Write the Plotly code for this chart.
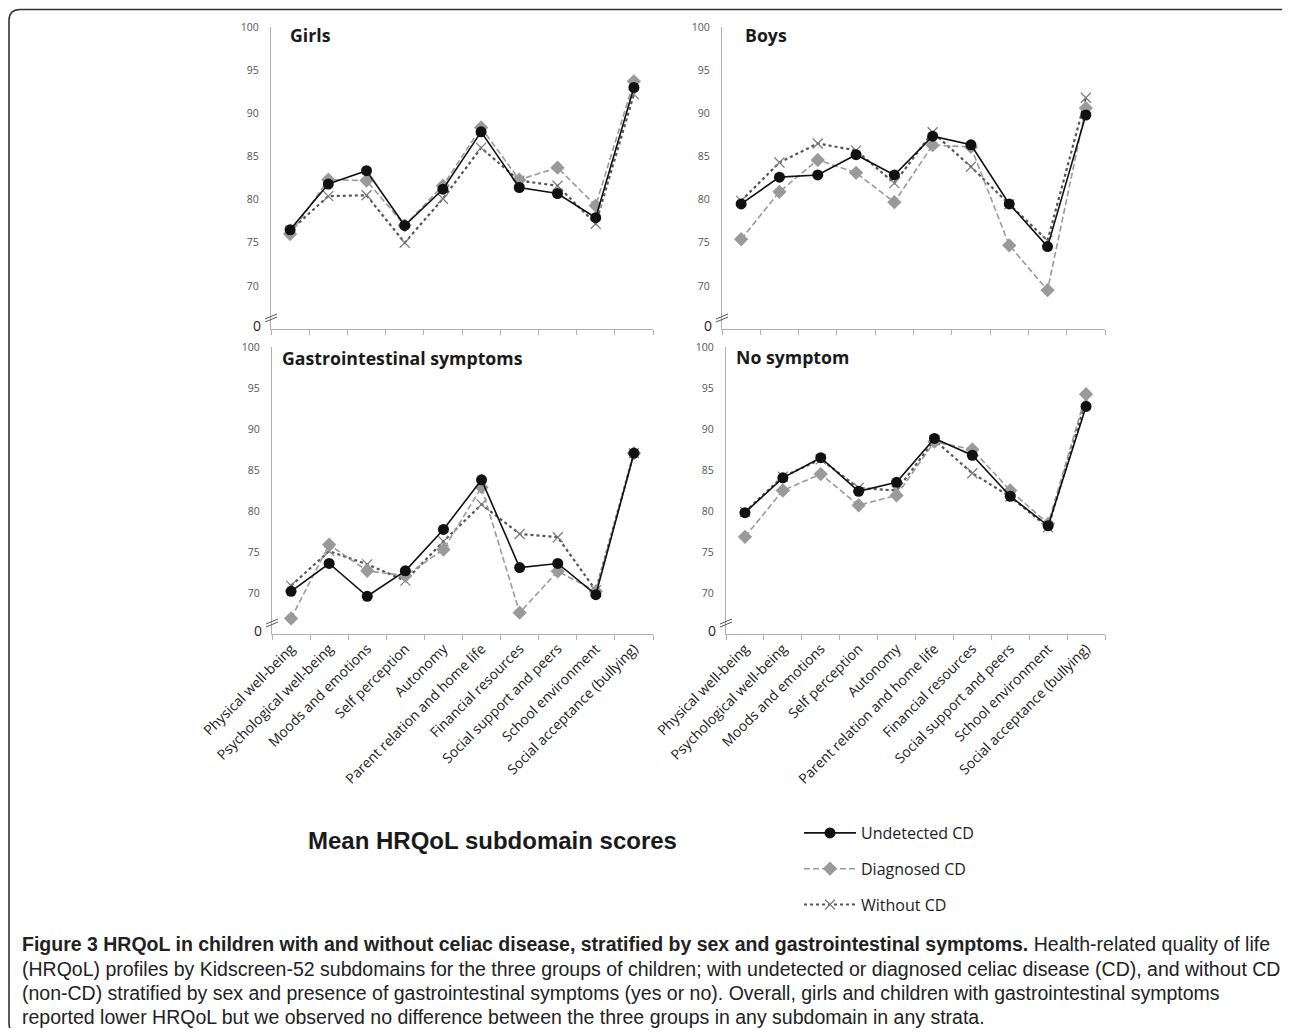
import plotly.graph_objects as go

# The page has an 8px body margin; the figure fills the rest of the 1290x1036 window.
OFF = 8
W, H = 1290 - 2 * OFF, 1036 - 2 * OFF

categories = ["Physical well-being", "Psychological well-being", "Moods and emotions",
              "Self perception", "Autonomy", "Parent relation and home life",
              "Financial resources", "Social support and peers", "School environment",
              "Social acceptance (bullying)"]

panel_titles = ["Girls", "Boys", "Gastrointestinal symptoms", "No symptom"]

girls_undetected = [76.5, 81.8, 83.35, 77.0, 81.2, 87.85, 81.4, 80.7, 77.9, 93.0]
girls_diagnosed = [76.0, 82.3, 82.2, 77.0, 81.6, 88.35, 82.3, 83.7, 79.3, 93.7]
girls_without = [76.4, 80.4, 80.5, 75.0, 80.1, 86.0, 82.2, 81.6, 77.2, 92.2]

boys_undetected = [79.5, 82.6, 82.85, 85.2, 82.85, 87.35, 86.35, 79.5, 74.55, 89.8]
boys_diagnosed = [75.4, 80.9, 84.6, 83.1, 79.7, 86.3, 86.1, 74.7, 69.5, 90.6]
boys_without = [79.85, 84.3, 86.5, 85.7, 81.9, 87.8, 83.8, 79.45, 75.25, 91.8]

gi_undetected = [70.2, 73.6, 69.6, 72.7, 77.75, 83.8, 73.1, 73.6, 69.8, 87.05]
gi_diagnosed = [66.9, 75.9, 72.7, 72.1, 75.3, 82.9, 67.6, 72.65, 70.2, 87.05]
gi_without = [70.9, 75.1, 73.5, 71.5, 76.3, 80.8, 77.2, 76.8, 70.3, 87.05]

nosym_undetected = [79.8, 84.05, 86.5, 82.4, 83.5, 88.85, 86.8, 81.8, 78.2, 92.75]
nosym_diagnosed = [76.85, 82.5, 84.5, 80.7, 81.9, 88.45, 87.5, 82.5, 78.45, 94.25]
nosym_without = [79.9, 84.2, 86.3, 82.8, 82.5, 88.65, 84.6, 81.75, 78.0, 93.55]

y_tickvals = [70, 75, 80, 85, 90, 95, 100]
y_ticktext = ["70", "75", "80", "85", "90", "95", "100"]
series_names = ["Undetected CD", "Diagnosed CD", "Without CD"]

panels = [
    (girls_undetected, girls_diagnosed, girls_without),
    (boys_undetected, boys_diagnosed, boys_without),
    (gi_undetected, gi_diagnosed, gi_without),
    (nosym_undetected, nosym_diagnosed, nosym_without),
]

def fx(x):
    return (x - OFF) / W

def fy(y):
    return 1 - (y - OFF) / H

# pixel layout of panels (window coords): (x0, x1, ytop, ybottom)
boxes = [(271, 653, 27, 329), (722, 1105, 27, 329), (272, 653, 347, 634), (726, 1105, 347, 634)]
title_offsets = [(17, 8), (21, 8), (8, 11), (8, 10)]

styles = [
    dict(line=dict(color="#111111", width=1.6, dash="solid"),
         marker=dict(symbol="circle", size=11, color="#111111")),
    dict(line=dict(color="#9a9a9a", width=1.6, dash="6px,3px"),
         marker=dict(symbol="diamond", size=11, color="#9a9a9a")),
    dict(line=dict(color="#555555", width=2.2, dash="dot"),
         marker=dict(symbol="x-thin-open", size=10, color="#7a7a7a", line=dict(width=1.2, color="#7a7a7a"))),
]

fig = go.Figure()

# draw order: without, diagnosed, undetected (undetected on top)
for i, series in enumerate(panels):
    sfx = "" if i == 0 else str(i + 1)
    for j in [2, 1, 0]:
        fig.add_trace(go.Scatter(
            x=categories, y=series[j], mode="lines+markers",
            name=series_names[j], legendgroup=series_names[j], showlegend=(i == 0),
            legendrank=j, xaxis="x" + sfx, yaxis="y" + sfx,
            line=styles[j]["line"], marker=styles[j]["marker"], hoverinfo="skip"))

layout = dict(
    width=W, height=H, margin=dict(l=0, r=0, t=0, b=0, autoexpand=False),
    plot_bgcolor="white", paper_bgcolor="white",
    font=dict(family="Open Sans, Calibri, sans-serif", color="#222222"),
    showlegend=True,
    legend=dict(x=fx(799), y=fy(816), xanchor="left", yanchor="top", itemwidth=52,
                font=dict(size=16, color="#222222", family="Open Sans"),
                tracegroupgap=12, traceorder="grouped", bgcolor="rgba(0,0,0,0)"),
)

annotations = []
shapes = []
for i, (x0, x1, yt, yb) in enumerate(boxes):
    sfx = "" if i == 0 else str(i + 1)
    xa = "xaxis" + sfx
    ya = "yaxis" + sfx
    bottom = i >= 2
    layout[xa] = dict(
        domain=[fx(x0), fx(x1)], anchor="y" + sfx, type="category", automargin=False,
        range=[-0.5, 9.5], tickson="boundaries", ticks="outside", ticklen=5,
        tickcolor="#b0b0b0", showline=True, linecolor="#b0b0b0", linewidth=1.2,
        showgrid=False, zeroline=False, tickangle=-45,
        showticklabels=bottom, tickfont=dict(size=14, color="#222222", family="Open Sans"))
    layout[ya] = dict(
        domain=[fy(yb), fy(yt)], anchor="x" + sfx, range=[65, 100], automargin=False,
        tickvals=y_tickvals, ticktext=y_ticktext, ticks="", showline=True,
        linecolor="#b0b0b0", linewidth=1.2, showgrid=False, zeroline=False,
        ticklabelstandoff=9, tickfont=dict(size=10.5, color="#555555", family="Open Sans"))
    # "0" label at the axis bottom
    annotations.append(dict(text="0", x=fx(x0 - 14), y=fy(yb - 4), xref="paper", yref="paper",
                            showarrow=False, xanchor="center", yanchor="middle",
                            font=dict(size=14, color="#222222", family="Open Sans")))
    # axis break marks
    for d in (0, 3):
        shapes.append(dict(type="line", xref="paper", yref="paper",
                           x0=fx(x0 - 6), y0=fy(yb - 10 + d), x1=fx(x0 + 6), y1=fy(yb - 15 + d),
                           line=dict(color="#555555", width=1)))
    # panel title
    ox, oy = title_offsets[i]
    annotations.append(dict(text="<b>" + panel_titles[i] + "</b>", x=fx(x0 + ox), y=fy(yt + oy),
                            xref="paper", yref="paper", showarrow=False, xanchor="left",
                            yanchor="middle", font=dict(size=17.7, color="#1a1a1a", family="Open Sans")))

# chart title
annotations.append(dict(text="<b>Mean HRQoL subdomain scores</b>", x=fx(492), y=fy(840),
                        xref="paper", yref="paper", showarrow=False, xanchor="center", yanchor="middle",
                        font=dict(size=24, color="#1a1a1a", family="Liberation Sans, Arial")))

caption_lines = [
    "<b>Figure 3 HRQoL in children with and without celiac disease, stratified by sex and gastrointestinal symptoms.</b> Health-related quality of life",
    "(HRQoL) profiles by Kidscreen-52 subdomains for the three groups of children; with undetected or diagnosed celiac disease (CD), and without CD",
    "(non-CD) stratified by sex and presence of gastrointestinal symptoms (yes or no). Overall, girls and children with gastrointestinal symptoms",
    "reported lower HRQoL but we observed no difference between the three groups in any subdomain in any strata.",
]
cap_y = [944, 968.5, 993, 1017]
for line, yy in zip(caption_lines, cap_y):
    annotations.append(dict(text=line, x=fx(20), y=fy(yy), xref="paper", yref="paper",
                            showarrow=False, xanchor="left", yanchor="middle",
                            font=dict(size=19.5, color="#222222",
                                      family="Liberation Sans, Arial")))

# rounded figure border
r = 11
bt, bl, bb = 9.5, 9, 1034
path = (f"M {fx(1300)},{fy(bt)} L {fx(bl + r)},{fy(bt)} Q {fx(bl)},{fy(bt)} {fx(bl)},{fy(bt + r)} "
        f"L {fx(bl)},{fy(bb - r)} Q {fx(bl)},{fy(bb)} {fx(bl + r)},{fy(bb)}")
shapes.append(dict(type="path", xref="paper", yref="paper", path=path,
                   line=dict(color="#333333", width=1.6)))

layout["annotations"] = annotations
layout["shapes"] = shapes
fig.update_layout(**layout)

fig.write_html("out.html")
